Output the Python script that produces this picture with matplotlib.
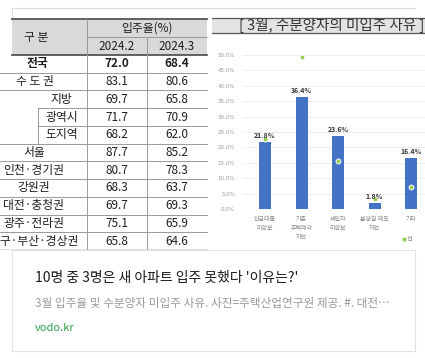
import matplotlib
matplotlib.use("Agg")
import matplotlib.pyplot as plt
from matplotlib.patches import Rectangle

plt.rcParams['font.family'] = ['Noto Sans CJK KR', 'DejaVu Sans']

# table data (입주율 %)
regions = ['전국', '수도권', '지방', '광역시', '도지역', '서울', '인천·경기권',
           '강원권', '대전·충청권', '광주·전라권', '대구·부산·경상권']
rate_feb = [72.0, 83.1, 69.7, 71.7, 68.2, 87.7, 80.7, 68.3, 69.7, 75.1, 65.8]
rate_mar = [68.4, 80.6, 65.8, 70.9, 62.0, 85.2, 78.3, 63.7, 69.3, 65.9, 64.6]
months = ['2024.2', '2024.3']

# chart data (미입주 사유 %)
reasons = ['잔금대출\n미확보', '기존\n주택매각\n지연', '세입자\n미확보', '분양권 매도\n지연', '기타']
share = [21.8, 36.4, 23.6, 1.8, 16.4]
share_prev = [22.6, 49.5, 15.5, 3.3, 7.0]

W, H = 425, 358
fig = plt.figure(figsize=(W / 100, H / 100), dpi=100)
fig.patch.set_facecolor('white')

# pixel canvas for the table / card
bg = fig.add_axes([0, 0, 1, 1])
bg.set_xlim(0, W)
bg.set_ylim(H, 0)
bg.axis('off')

dark = '#555555'
thin = '#9a9a9a'
tx = '#1e1e1e'

# frame lines at the top of the picture
bg.plot([12, 415], [8, 8], color='#dddddd', lw=0.8)
bg.plot([12, 12], [8, 19], color='#dddddd', lw=0.8)

# header
bg.add_patch(Rectangle((12, 19), 195, 36, facecolor='#d9d9d9', edgecolor='none'))
bg.plot([12, 207], [19, 19], color=dark, lw=1.3)
bg.plot([12, 207], [55, 55], color=dark, lw=1.3)
bg.plot([87, 207], [37, 37], color=thin, lw=0.7)
bg.text(36, 37, '구 분', ha='center', va='center', fontsize=8.5, color=tx)
bg.text(147, 28, '입주율(%)', ha='center', va='center', fontsize=8.5, color=tx)
bg.text(117, 47, months[0], ha='center', va='center', fontsize=8.5, color=tx)
bg.text(177, 47, months[1], ha='center', va='center', fontsize=8.5, color=tx)

row_h = (250 - 55) / len(regions)
label_x = {'전국': 37, '수도권': 35, '지방': 61, '광역시': 62, '도지역': 62}
for i, name in enumerate(regions):
    top = 55 + i * row_h
    yc = top + row_h / 2
    bold = 'bold' if i == 0 else 'normal'
    label = ' '.join(name) if name == '수도권' else name
    bg.text(label_x.get(name, 34), yc, label, ha='center', va='center',
            fontsize=8.5, color=tx, fontweight=bold)
    bg.text(117, yc, f'{rate_feb[i]:.1f}', ha='center', va='center',
            fontsize=8.5, color=tx, fontweight=bold)
    bg.text(177, yc, f'{rate_mar[i]:.1f}', ha='center', va='center',
            fontsize=8.5, color=tx, fontweight=bold)
    bottom = top + row_h
    x0 = 38 if name in ('지방', '광역시') else 0
    if i < len(regions) - 1:
        bg.plot([x0, 207], [bottom, bottom], color=thin, lw=0.7)
    else:
        bg.plot([0, 207], [bottom, bottom], color=dark, lw=1.0)

bg.plot([87, 87], [19, 250], color=thin, lw=0.7)
bg.plot([147, 147], [37, 250], color=thin, lw=0.7)
bg.plot([38, 38], [55 + 3 * row_h, 55 + 5 * row_h], color=thin, lw=0.7)

# chart title box
bg.add_patch(Rectangle((212, 18), 213, 15, facecolor='#e3e3e3', edgecolor='none'))
bg.plot([212, 425], [18, 18], color=dark, lw=0.9)
bg.plot([212, 425], [33, 33], color=dark, lw=0.9)
bg.text(424, 25.5, '[ 3월, 수분양자의 미입주 사유 ]', ha='right', va='center',
        fontsize=10.5, color='#333333')

# legend fragment
bg.plot([404], [239], 'o', ms=2, color='#92d050')
bg.text(407, 239, '전', ha='left', va='center', fontsize=4.5, color='#888888')

# bar chart
y0, per = 209, 3.08
ax = fig.add_axes([243 / W, (H - y0) / H, (W - 243) / W, 52.3 * per / H])
ax.set_facecolor('none')
x = list(range(len(reasons)))
ax.bar(x, share, width=0.33, color='#4472c4', zorder=2)
ax.plot(x, share_prev, 'o', ms=3.5, mfc='#92d050', mec='white', mew=0.7,
        ls='none', zorder=3)
for i, v in enumerate(share):
    ax.text(i, v + 1.0, f'{v}%', ha='center', va='bottom', fontsize=5,
            fontweight='bold', color='#333333', zorder=4)
ax.set_xlim(-0.603, 4.38)
ax.set_ylim(0, 52.3)
ax.set_yticks(range(0, 51, 5))
ax.set_yticklabels([f'{t:.1f}%' for t in range(0, 51, 5)], fontsize=4,
                   color='#9a9a9a', family=['DejaVu Sans'])
ax.set_xticks(x)
ax.set_xticklabels(reasons, fontsize=4.3, color='#888888', linespacing=2.0, va='top')
ax.tick_params(length=0, pad=5.5)
ax.tick_params(axis='y', pad=5.8)
ax.grid(axis='y', color='#ebebeb', lw=0.6, zorder=0)
for s in ax.spines.values():
    s.set_visible(False)
ax.axhline(0, color='#d0d0d0', lw=0.7, zorder=1)

# card below the picture (covers anything past the picture edge)
cover = Rectangle((0, 0), 1, (H - 250) / H, transform=fig.transFigure,
                  facecolor='white', edgecolor='none', zorder=5)
fig.add_artist(cover)
card = Rectangle((12 / W, (H - 351) / H), 403 / W, 101 / H, transform=fig.transFigure,
                 facecolor='none', edgecolor='#e2e2e2', lw=0.8, zorder=6)
fig.add_artist(card)
fig.text(35 / W, 1 - 278 / H, "10명 중 3명은 새 아파트 입주 못했다 '이유는?'",
         ha='left', va='center', fontsize=10, color='#1a1a1a', zorder=7)
fig.text(35 / W, 1 - 303 / H, '3월 입주율 및 수분양자 미입주 사유. 사진=주택산업연구원 제공. #. 대전…',
         ha='left', va='center', fontsize=8.4, color='#9a9a9a', zorder=7)
fig.text(35 / W, 1 - 328 / H, 'vodo.kr', ha='left', va='center', fontsize=8,
         color='#30a14e', zorder=7)

fig.savefig('out.png', dpi=100)
